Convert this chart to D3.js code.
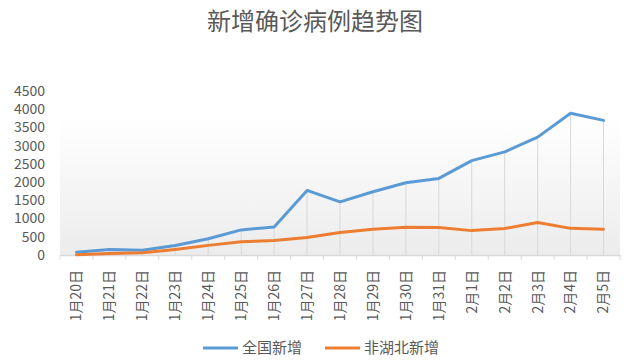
<!DOCTYPE html>
<html>
<head>
<meta charset="utf-8">
<script src="https://cdn.jsdelivr.net/npm/d3@7"></script>
<style>
  body { margin: 0; background: #fff; }
  svg { display: block; font-family: "Noto Sans CJK SC", "Noto Sans", sans-serif; }
</style>
</head>
<body>
<svg width="630" height="363"></svg>
<script>
// chart data
const dates = ['1月20日', '1月21日', '1月22日', '1月23日', '1月24日', '1月25日', '1月26日', '1月27日', '1月28日',
  '1月29日', '1月30日', '1月31日', '2月1日', '2月2日', '2月3日', '2月4日', '2月5日'];
const nationalNew = [77, 149, 131, 259, 444, 688, 769, 1771, 1459, 1737, 1982, 2102, 2590, 2829, 3235, 3887, 3694];
const outsideHubeiNew = [5, 44, 62, 154, 264, 365, 398, 480, 619, 705, 762, 755, 669, 726, 890, 731, 707];
const yTicks = [0, 500, 1000, 1500, 2000, 2500, 3000, 3500, 4000, 4500];
const seriesNames = ['全国新增', '非湖北新增'];

const colors = ['#5b9bd5', '#ed7d31'];
const textColor = '#595959';

const margin = { top: 91, right: 10, bottom: 108, left: 60 };
const width = 630, height = 363;
const innerWidth = 620 - margin.left;
const innerHeight = height - margin.top - margin.bottom;

const svg = d3.select('svg');

// gradient for the plot area
const defs = svg.append('defs');
const grad = defs.append('linearGradient')
  .attr('id', 'plotGrad')
  .attr('x1', 0).attr('y1', 0).attr('x2', 0).attr('y2', 1);
grad.append('stop').attr('offset', '0%').attr('stop-color', '#ffffff');
grad.append('stop').attr('offset', '100%').attr('stop-color', '#ececec');

const x = d3.scaleBand().domain(dates).range([0, innerWidth]);
const y = d3.scaleLinear().domain([0, 4500]).range([innerHeight, 0]);
const cx = d => x(d) + x.bandwidth() / 2;

const g = svg.append('g')
  .attr('transform', `translate(${margin.left}, ${margin.top})`);

g.append('rect')
  .attr('x', 0)
  .attr('y', y(3750))
  .attr('width', innerWidth)
  .attr('height', innerHeight - y(3750))
  .attr('fill', 'url(#plotGrad)');

// title
svg.append('text')
  .attr('x', width / 2)
  .attr('y', 30)
  .attr('text-anchor', 'middle')
  .attr('font-size', 24)
  .attr('fill', textColor)
  .text('新增确诊病例趋势图');

// y axis labels
g.selectAll('.ytick').data(yTicks)
  .enter().append('text')
  .attr('class', 'ytick')
  .attr('x', -15)
  .attr('y', d => y(d))
  .attr('dy', '0.35em')
  .attr('text-anchor', 'end')
  .attr('font-size', 14)
  .attr('fill', textColor)
  .text(d => d);

// drop lines from the highest point to the axis
g.selectAll('.drop').data(dates)
  .enter().append('line')
  .attr('class', 'drop')
  .attr('x1', d => cx(d))
  .attr('x2', d => cx(d))
  .attr('y1', (d, i) => y(Math.max(nationalNew[i], outsideHubeiNew[i])))
  .attr('y2', innerHeight)
  .attr('stroke', '#d9d9d9')
  .attr('stroke-width', 1);

// x axis
const xAxis = d3.axisBottom(x).tickSize(0).tickFormat('');
const axisG = g.append('g')
  .attr('transform', `translate(0, ${innerHeight})`)
  .call(xAxis);
axisG.select('.domain').attr('stroke', '#d9d9d9').attr('stroke-width', 1.5);

const bounds = dates.map(d => x(d)).concat([innerWidth]);
g.selectAll('.xtickmark').data(bounds)
  .enter().append('line')
  .attr('x1', d => d).attr('x2', d => d)
  .attr('y1', innerHeight).attr('y2', innerHeight + 5)
  .attr('stroke', '#d9d9d9');

g.selectAll('.xlabel').data(dates)
  .enter().append('text')
  .attr('class', 'xlabel')
  .attr('transform', d => `translate(${cx(d)}, ${innerHeight + 15}) rotate(-90)`)
  .attr('text-anchor', 'end')
  .attr('dy', '0.35em')
  .attr('font-size', 14)
  .attr('fill', textColor)
  .text(d => d);

// series lines
const line = d3.line()
  .x((d, i) => cx(dates[i]))
  .y(d => y(d));

[nationalNew, outsideHubeiNew].forEach((s, k) => {
  g.append('path')
    .datum(s)
    .attr('d', line)
    .attr('fill', 'none')
    .attr('stroke', colors[k])
    .attr('stroke-width', 3)
    .attr('stroke-linejoin', 'round')
    .attr('stroke-linecap', 'round');
});

// legend
const legendX = [203, 325];
const legend = svg.append('g').attr('transform', 'translate(0, 348)');
seriesNames.forEach((name, k) => {
  legend.append('line')
    .attr('x1', legendX[k]).attr('x2', legendX[k] + 35)
    .attr('y1', 0).attr('y2', 0)
    .attr('stroke', colors[k])
    .attr('stroke-width', 3);
  legend.append('text')
    .attr('x', legendX[k] + 39)
    .attr('y', 0)
    .attr('dy', '0.35em')
    .attr('font-size', 15)
    .attr('fill', textColor)
    .text(name);
});
</script>
</body>
</html>
